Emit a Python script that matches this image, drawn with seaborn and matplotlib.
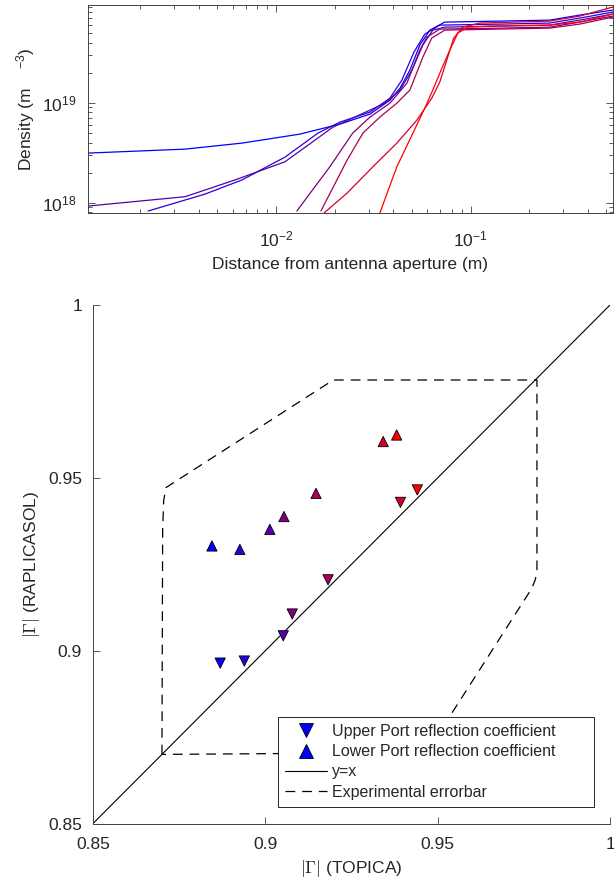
import numpy as np
import pandas as pd
import matplotlib
matplotlib.use("Agg")
import matplotlib.pyplot as plt
from matplotlib.lines import Line2D
from matplotlib.ticker import FixedLocator, FixedFormatter, LogLocator, NullFormatter
import seaborn as sns

# ---- top panel: density profiles (distance in m, density in m^-3) ----
dist_a = [1.08e-3, 3.41e-3, 6.68e-3, 0.01327, 0.02133, 0.0304, 0.0385, 0.0434, 0.0488, 0.0549, 0.0618, 0.0738, 0.1413, 0.255, 0.364, 0.538]
dens_a = [3.14e18, 3.44e18, 3.95e18, 4.86e18, 6.12e18, 7.71e18, 1.06e19, 1.40e19, 2.12e19, 3.78e19, 5.33e19, 6.41e19, 6.56e19, 6.71e19, 7.53e19, 8.45e19]

dist_b = [1.08e-3, 3.41e-3, 6.15e-3, 0.01112, 0.01963, 0.0270, 0.0363, 0.0434, 0.0500, 0.0569, 0.0640, 0.0738, 0.1413, 0.255, 0.364, 0.538]
dens_b = [9.27e17, 1.15e18, 1.69e18, 2.57e18, 5.71e18, 7.59e18, 9.90e18, 1.34e19, 2.12e19, 3.78e19, 5.33e19, 5.71e19, 5.85e19, 5.98e19, 6.71e19, 7.71e19]

dist_c = [2.20e-3, 4.31e-3, 6.68e-3, 0.01112, 0.01645, 0.02133, 0.0304, 0.0385, 0.0444, 0.0512, 0.0582, 0.0695, 0.1413, 0.255, 0.364, 0.538]
dens_c = [8.27e17, 1.22e18, 1.69e18, 2.86e18, 4.98e18, 6.41e18, 8.07e18, 1.11e19, 1.69e19, 3.21e19, 4.86e19, 5.98e19, 6.12e19, 6.27e19, 7.03e19, 8.07e19]

dist_d = [0.0128, 0.01891, 0.0248, 0.0304, 0.0385, 0.0471, 0.0549, 0.0597, 0.0695, 0.1413, 0.255, 0.364, 0.538]
dens_d = [8.27e17, 2.29e18, 4.98e18, 7.19e18, 9.90e18, 1.57e19, 3.37e19, 4.54e19, 5.46e19, 5.58e19, 5.71e19, 6.41e19, 7.36e19]

dist_e = [0.01702, 0.0232, 0.0280, 0.0342, 0.0418, 0.0488, 0.0569, 0.0632, 0.0738, 0.1413, 0.255, 0.364, 0.538]
dens_e = [8.27e17, 2.67e18, 4.98e18, 7.19e18, 9.90e18, 1.34e19, 2.86e19, 4.44e19, 5.33e19, 5.46e19, 5.58e19, 6.12e19, 7.19e19]

dist_f = [0.01766, 0.0232, 0.0315, 0.0418, 0.0530, 0.0632, 0.0695, 0.0755, 0.0820, 0.0912, 0.1116, 0.255, 0.364, 0.538]
dens_f = [7.89e17, 1.25e18, 2.29e18, 3.95e18, 6.71e18, 1.11e19, 1.61e19, 2.67e19, 4.44e19, 5.71e19, 6.27e19, 6.56e19, 7.36e19, 9.06e19]

dist_g = [0.0342, 0.0418, 0.0506, 0.0582, 0.0640, 0.0713, 0.0783, 0.0861, 0.0968, 0.1256, 0.255, 0.364, 0.538]
dens_g = [7.89e17, 2.29e18, 4.98e18, 8.85e18, 1.34e19, 2.22e19, 3.37e19, 4.98e19, 5.71e19, 5.85e19, 5.98e19, 6.41e19, 7.71e19]

# case index of each profile (0 = blue ... 6 = red)
profiles = [(0, dist_a, dens_a), (2, dist_b, dens_b), (1, dist_c, dens_c), (3, dist_d, dens_d),
            (4, dist_e, dens_e), (5, dist_f, dens_f), (6, dist_g, dens_g)]

# ---- bottom panel: |Gamma| TOPICA vs RAPLICASOL ----
upper_topica = [0.8869, 0.8939, 0.9052, 0.9078, 0.9182, 0.9392, 0.9441]
upper_rapli = [0.8964, 0.8970, 0.9043, 0.9106, 0.9205, 0.9429, 0.9465]
lower_topica = [0.8845, 0.8926, 0.9013, 0.9054, 0.9147, 0.9342, 0.9381]
lower_rapli = [0.9303, 0.9293, 0.9351, 0.9388, 0.9455, 0.9605, 0.9624]
cases = [0, 1, 2, 3, 4, 5, 6]

yx_line = [0.85, 1.0]
errbar_x = [0.8700, 0.8702, 0.8705, 0.8712, 0.9197, 0.9788, 0.9788, 0.9783, 0.9773, 0.9472, 0.9435, 0.8700]
errbar_y = [0.8700, 0.9350, 0.9435, 0.9472, 0.9783, 0.9783, 0.9228, 0.9205, 0.9180, 0.8712, 0.8705, 0.8700]

gamma_ticks = [0.85, 0.9, 0.95, 1.0]
gamma_ticklabels = ["0.85", "0.9", "0.95", "1"]

sns.set_style("ticks")
plt.rcParams["font.family"] = ["Liberation Sans", "DejaVu Sans"]
plt.rcParams["mathtext.fontset"] = "cm"
plt.rcParams["xtick.direction"] = "in"
plt.rcParams["ytick.direction"] = "in"
plt.rcParams["lines.scale_dashes"] = False

colors = sns.blend_palette(["#0000ff", "#ff0000"], 7)
axis_grey = "#404040"
text_col = "#262626"

fig = plt.figure(figsize=(6.14, 8.82), dpi=100)
ax1 = fig.add_axes([0.1433, 0.7585, 0.855, 0.2358])
ax2 = fig.add_axes([0.1515, 0.0663, 0.842, 0.5879])

# top panel
rows = []
for case, xs, ys in profiles:
    for x, y in zip(xs, ys):
        rows.append({"case": case, "distance": x, "density": y})
df = pd.DataFrame(rows)
sns.lineplot(data=df, x="distance", y="density", hue="case", palette=colors,
             estimator=None, sort=False, legend=False, lw=0.9, ax=ax1)
ax1.set_xscale("log")
ax1.set_yscale("log")
ax1.set_xlim(1.08e-3, 0.54)
ax1.set_ylim(7.9e17, 9.5e19)
ax1.xaxis.set_minor_locator(LogLocator(subs=np.arange(2, 10)))
ax1.yaxis.set_minor_locator(LogLocator(subs=np.arange(2, 10)))
ax1.xaxis.set_minor_formatter(NullFormatter())
ax1.yaxis.set_minor_formatter(NullFormatter())
ax1.tick_params(which="both", top=True, right=True, colors=axis_grey, labelcolor=text_col,
                labelsize=12.5, width=0.6)
ax1.tick_params(which="major", length=5)
ax1.tick_params(which="minor", length=3)
ax1.tick_params(axis="x", which="both", pad=12)
ax1.tick_params(axis="y", which="both", pad=8)
for sp in ax1.spines.values():
    sp.set_color(axis_grey)
    sp.set_linewidth(0.7)
ax1.set_xlabel("Distance from antenna aperture (m)", fontsize=12.5, color=text_col, labelpad=5)
ax1.set_ylabel("Density (m    $\\mathregular{^{-3}}$)", fontsize=12.5, color=text_col)

# bottom panel
ax2.plot(yx_line, yx_line, color="black", lw=0.8, zorder=2)
ax2.plot(errbar_x, errbar_y, color="black", lw=0.9, linestyle=(0, (7.0, 5.0)), zorder=2)
sns.scatterplot(x=upper_topica, y=upper_rapli, hue=cases, palette=colors, marker="v", s=55,
                edgecolor="black", linewidth=0.6, legend=False, zorder=3, ax=ax2)
sns.scatterplot(x=lower_topica, y=lower_rapli, hue=cases, palette=colors, marker="^", s=55,
                edgecolor="black", linewidth=0.6, legend=False, zorder=3, ax=ax2)
ax2.set_xlim(0.85, 1.0)
ax2.set_ylim(0.85, 1.0)
ax2.xaxis.set_major_locator(FixedLocator(gamma_ticks))
ax2.xaxis.set_major_formatter(FixedFormatter(gamma_ticklabels))
ax2.yaxis.set_major_locator(FixedLocator(gamma_ticks))
ax2.yaxis.set_major_formatter(FixedFormatter(gamma_ticklabels))
ax2.spines["top"].set_visible(False)
ax2.spines["right"].set_visible(False)
for sp in ("left", "bottom"):
    ax2.spines[sp].set_color(axis_grey)
    ax2.spines[sp].set_linewidth(0.7)
ax2.tick_params(colors=axis_grey, labelcolor=text_col, labelsize=12.5, length=5, width=0.6)
ax2.tick_params(axis="x", pad=10)
ax2.tick_params(axis="y", pad=8)
ax2.set_xlabel("$|\\Gamma|$ (TOPICA)", fontsize=12.5, color=text_col)
ax2.set_ylabel("$|\\Gamma|$ (RAPLICASOL)", fontsize=12.5, color=text_col)

handles = [
    Line2D([], [], marker="v", linestyle="none", markersize=10, markerfacecolor="#0000ff",
           markeredgecolor="black", markeredgewidth=0.6),
    Line2D([], [], marker="^", linestyle="none", markersize=10, markerfacecolor="#0000ff",
           markeredgecolor="black", markeredgewidth=0.6),
    Line2D([], [], color="black", lw=0.8),
    Line2D([], [], color="black", lw=0.9, linestyle=(0, (7.0, 5.0))),
]
labels = ["Upper Port reflection coefficient" + " " * 7, "Lower Port reflection coefficient",
          "y=x", "Experimental errorbar"]
leg = ax2.legend(handles, labels, loc="lower right", bbox_to_anchor=(0.969, 0.032),
                 borderaxespad=0, fontsize=11.5, frameon=True, fancybox=False, framealpha=1,
                 edgecolor=text_col, handlelength=2.6, handletextpad=0.3, labelspacing=0.33,
                 borderpad=0.45)
leg.get_frame().set_linewidth(0.7)

fig.savefig("out.png", dpi=100)
